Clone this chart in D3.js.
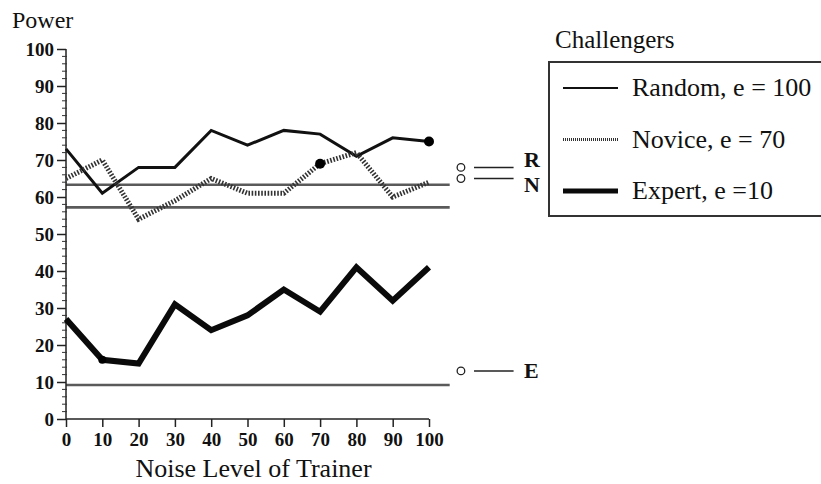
<!DOCTYPE html>
<html>
<head>
    <title>Power vs noise level of trainer</title>
    <script src="https://d3js.org/d3.v7.min.js"></script>
    <style>
        body { margin: 0; background: #fff; }
        svg { display: block; font-family: "Liberation Serif", "Times New Roman", serif; }
        .tick text { font-family: "Liberation Serif", serif; font-weight: bold; font-size: 19px; fill: #111; }
        .axis path, .axis line { stroke: #222; stroke-width: 1.5; }
    </style>
</head>
<body>
    <svg id="chart"></svg>

    <script>
        // data
        var noiseLevels = [0, 10, 20, 30, 40, 50, 60, 70, 80, 90, 100];
        var randomPower = [73, 61, 68, 68, 78, 74, 78, 77, 71, 76, 75];
        var novicePower = [65, 70, 54, 59, 65, 61, 61, 69, 72, 60, 64];
        var expertPower = [27, 16, 15, 31, 24, 28, 35, 29, 41, 32, 41];
        var seriesNames = ["Random, e = 100", "Novice, e = 70", "Expert, e =10"];
        var markedPoint = [100, 70, 10];        // noise level with a filled dot
        var baselines = [63.3, 57.2, 9.2];      // grey reference lines
        var annotLetters = ["R", "N", "E"];
        var annotValues = [68, 65, 13];
        var yTicks = [0, 10, 20, 30, 40, 50, 60, 70, 80, 90, 100];

        var width = 821, height = 484;
        var margin = {top: 49, left: 66};
        var plotW = 363, plotH = 370;

        var svg = d3.select("#chart").attr("width", width).attr("height", height);

        var x = d3.scaleLinear().domain([0, 100]).range([margin.left, margin.left + plotW]);
        var y = d3.scaleLinear().domain([0, 100]).range([margin.top + plotH, margin.top]);

        // styles per series
        var styles = [
            {width: 3, dash: null, color: "#111"},
            {width: 5, dash: "1.6,1.6", color: "#333"},
            {width: 6, dash: null, color: "#0a0a0a"}
        ];
        var series = [randomPower, novicePower, expertPower];

        // reference lines
        svg.append("g").selectAll("line")
            .data(baselines)
            .enter().append("line")
            .attr("x1", x(0)).attr("x2", x(105.7))
            .attr("y1", function(d) { return y(d); })
            .attr("y2", function(d) { return y(d); })
            .attr("stroke", "#5a5a5a")
            .attr("stroke-width", 2.6);

        // axes
        var yAxis = d3.axisLeft(y).tickValues(yTicks).tickSize(9).tickPadding(3);
        var gy = svg.append("g").attr("class", "axis")
            .attr("transform", "translate(" + margin.left + ",0)")
            .call(yAxis)
            .attr("font-family", null);
        gy.select(".domain").attr("d", "M0," + y(0) + "V" + y(100));

        // minor ticks on y
        svg.append("g").selectAll("line")
            .data(d3.range(0, 101, 2).filter(function(v) { return v % 10 !== 0; }))
            .enter().append("line")
            .attr("x1", margin.left - 4).attr("x2", margin.left + 1)
            .attr("y1", function(d) { return y(d); })
            .attr("y2", function(d) { return y(d); })
            .attr("stroke", "#333").attr("stroke-width", 1);

        var xAxis = d3.axisBottom(x).tickValues(noiseLevels).tickSize(8).tickPadding(6);
        var gx = svg.append("g").attr("class", "axis")
            .attr("transform", "translate(0," + y(0) + ")")
            .call(xAxis)
            .attr("font-family", null);
        gx.select(".domain").attr("d", "M" + x(0) + ",0H" + x(100));

        // series lines
        var line = d3.line()
            .x(function(d, i) { return x(noiseLevels[i]); })
            .y(function(d) { return y(d); });

        svg.append("g").selectAll("path")
            .data(series)
            .enter().append("path")
            .attr("d", line)
            .attr("fill", "none")
            .attr("stroke", function(d, i) { return styles[i].color; })
            .attr("stroke-width", function(d, i) { return styles[i].width; })
            .attr("stroke-dasharray", function(d, i) { return styles[i].dash; })
            .attr("stroke-linejoin", "miter");

        // filled dots
        svg.append("g").selectAll("circle")
            .data(series)
            .enter().append("circle")
            .attr("cx", function(d, i) { return x(markedPoint[i]); })
            .attr("cy", function(d, i) { return y(d[noiseLevels.indexOf(markedPoint[i])]); })
            .attr("r", function(d, i) { return i === 2 ? 4 : 5; })
            .attr("fill", "#000");

        // R / N / E annotations on the right
        var annotDy = [0, 13, 7];
        var ag = svg.append("g").selectAll("g")
            .data(annotValues)
            .enter().append("g");
        ag.append("circle")
            .attr("cx", x(108.8))
            .attr("cy", function(d) { return y(d); })
            .attr("r", 3.8)
            .attr("fill", "none").attr("stroke", "#222").attr("stroke-width", 1.3);
        ag.append("line")
            .attr("x1", x(112.4)).attr("x2", x(123.3))
            .attr("y1", function(d) { return y(d); })
            .attr("y2", function(d) { return y(d); })
            .attr("stroke", "#222").attr("stroke-width", 1.5);
        ag.append("text")
            .attr("x", 524)
            .attr("y", function(d, i) { return y(d) + annotDy[i]; })
            .attr("font-size", 22).attr("font-weight", "bold")
            .attr("fill", "#111")
            .text(function(d, i) { return annotLetters[i]; });

        // axis titles
        svg.append("text").attr("x", 12).attr("y", 28)
            .attr("font-size", 24).attr("fill", "#111").text("Power");
        svg.append("text").attr("x", (x(0) + x(100)) / 2 + 6).attr("y", 477)
            .attr("text-anchor", "middle")
            .attr("font-size", 26).attr("fill", "#111").text("Noise Level of Trainer");

        // legend
        var legend = svg.append("g");
        legend.append("text").attr("x", 555).attr("y", 48)
            .attr("font-size", 25).attr("fill", "#111").text("Challengers");
        legend.append("rect")
            .attr("x", 549).attr("y", 62).attr("width", 290).attr("height", 154)
            .attr("fill", "none").attr("stroke", "#333").attr("stroke-width", 2);
        var rows = legend.selectAll("g.row")
            .data(seriesNames)
            .enter().append("g").attr("class", "row")
            .attr("transform", function(d, i) { return "translate(0," + (88 + i * 51.5) + ")"; });
        rows.append("line")
            .attr("x1", 563).attr("x2", 618).attr("y1", 0).attr("y2", 0)
            .attr("stroke", function(d, i) { return styles[i].color; })
            .attr("stroke-width", function(d, i) { return [2, 3, 5][i]; })
            .attr("stroke-dasharray", function(d, i) { return i === 1 ? "1,1" : null; });
        rows.append("text")
            .attr("x", 632).attr("y", 8)
            .attr("font-size", 26).attr("fill", "#111")
            .text(function(d) { return d; });
    </script>
</body>
</html>
